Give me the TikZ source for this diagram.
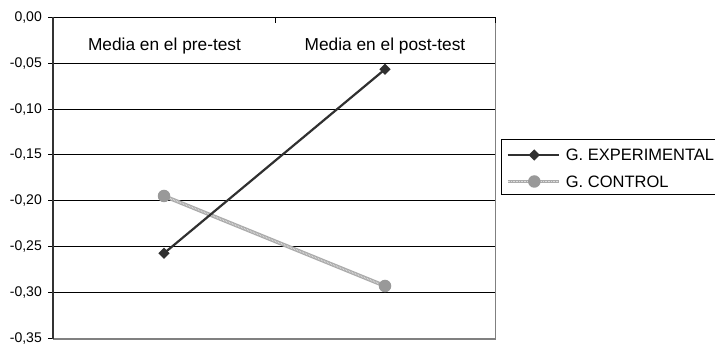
\documentclass[tikz,border=0pt]{standalone}
\usepackage{fontspec}
\setmainfont{Liberation Sans}
\usetikzlibrary{shapes.geometric}
\definecolor{expc}{HTML}{303030}
\definecolor{ctlc}{HTML}{ABABAB}
\definecolor{ctlm}{HTML}{999999}
\definecolor{axisc}{HTML}{333333}
\definecolor{framec}{HTML}{808080}
\tikzset{
  ylab/.style={anchor=east, inner sep=0pt, font=\fontsize{14}{16}\selectfont},
  catlab/.style={inner sep=0pt, font=\fontsize{17.3}{20}\selectfont},
  leglab/.style={anchor=west, inner sep=0pt, font=\fontsize{16.5}{19}\selectfont},
  grid line/.style={black, line width=1pt},
  expline/.style={expc, line width=2.2pt},
  ctlline/.style={ctlc, line width=3.8pt},
  ctltex/.style={white, line width=1.4pt, dash pattern=on 0.7pt off 0.9pt, opacity=0.6},
  expmark/.style={diamond, fill=expc, inner sep=0pt, minimum size=11.5pt},
  ctlmark/.style={circle, fill=ctlm, inner sep=0pt, minimum size=12.5pt},
}
\begin{document}
\begin{tikzpicture}[x=1pt,y=-1pt]
\useasboundingbox (0,0) rectangle (715,344);
% grid lines
\foreach \i in {1,...,6}{
  \draw[grid line] (48,17.5+\i*45.8) -- (495.7,17.5+\i*45.8);
}
\node[ylab] (l0) at (42,17.5) {0,00};
\node[ylab] (l1) at (42,63.3) {-0,05};
\node[ylab] (l2) at (42,109.1) {-0,10};
\node[ylab] (l3) at (42,154.9) {-0,15};
\node[ylab] (l4) at (42,200.7) {-0,20};
\node[ylab] (l5) at (42,246.5) {-0,25};
\node[ylab] (l6) at (42,292.3) {-0,30};
\node[ylab] (l7) at (42,338.1) {-0,35};
% frame
\draw[framec, line width=1.5pt] (495.7,17.5) -- (495.7,338.6);
\draw[framec, line width=2pt] (53,338.6) -- (496.4,338.6);
\draw[black, line width=1pt] (48,17.5) -- (495.7,17.5);
\draw[black, line width=1pt] (48,338.1) -- (53,338.1);
\draw[black, line width=1pt] (275.3,17.5) -- (275.3,23.3);
\draw[black, line width=1pt] (495.2,17.5) -- (495.2,23.3);
\draw[axisc, line width=2pt] (53,17) -- (53,339.5);
% category labels
\node[catlab] (c1) at (164.5,46.5) {Media en el pre-test};
\node[catlab] (c2) at (385,46.5) {Media en el post-test};
% data points
\coordinate (cpre) at (164,196);
\coordinate (cpost) at (385,286);
\coordinate (epre) at (164,253.3);
\coordinate (epost) at (385,69.3);
% control series
\draw[ctlline] (cpre) -- (cpost);
\draw[ctltex] (cpre) -- (cpost);
\node[ctlmark] (cm1) at (cpre) {};
\node[ctlmark] (cm2) at (cpost) {};
% experimental series
\draw[expline] (epre) -- (epost);
\node[expmark] (em1) at (epre) {};
\node[expmark] (em2) at (epost) {};
% legend
\draw[black, line width=1pt] (501.7,139.3) rectangle (718,194.3);
\coordinate (le1) at (507.7,155);
\coordinate (le2) at (559,155);
\draw[expline] (le1) -- (le2);
\node[expmark] (lem) at (534.3,155) {};
\node[leglab] (lt1) at (565.7,155) {G. EXPERIMENTAL};
\coordinate (lc1) at (507.7,181.5);
\coordinate (lc2) at (559,181.5);
\draw[ctlline] (lc1) -- (lc2);
\draw[ctltex] (lc1) -- (lc2);
\node[ctlmark] (lcm) at (534.3,181.5) {};
\node[leglab] (lt2) at (565.7,181.5) {G. CONTROL};
\end{tikzpicture}
\end{document}
